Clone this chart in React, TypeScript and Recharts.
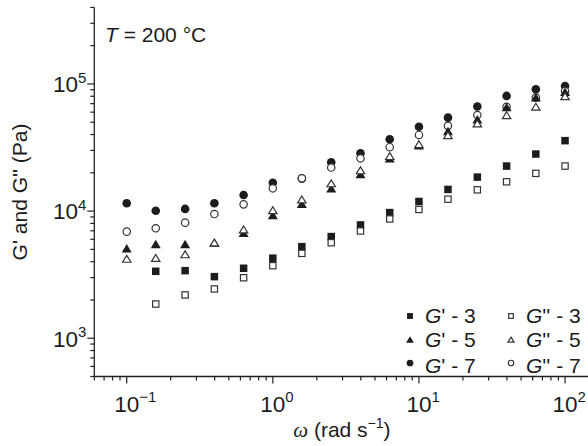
import React from 'react';
import { ScatterChart, Scatter, XAxis, YAxis, Label } from 'recharts';

const omega = [0.1, 0.158, 0.251, 0.398, 0.631, 1, 1.58, 2.51, 3.98, 6.31, 10, 15.8, 25.1, 39.8, 63.1, 100];

const gPrime3 = [null, 3360, 3400, 3050, 3550, 4260, 5250, 6300, 7780, 9730, 11900, 14800, 18500, 22600, 28100, 35800];
const gDouble3 = [null, 1858, 2190, 2440, 2990, 3720, 4650, 5640, 6970, 8670, 10300, 12400, 14700, 17000, 19800, 22600];
const gPrime5 = [5100, 5510, 5510, 5650, 6760, 9300, 11400, 15100, 19600, 26000, 33000, 42700, 52700, 66000, 78500, 87000];
const gDouble5 = [4230, 4300, 4590, 5680, 7200, 10200, 12400, 16600, 21000, 27200, 33700, 39700, 49100, 57000, 66400, 80500];
const gPrime7 = [11520, 10070, 10400, 11520, 13400, 16700, 18000, 24200, 28500, 36700, 46100, 54300, 66400, 80500, 90800, 96400];
const gDouble7 = [6890, 7330, 8110, 9480, 11300, 15100, 18100, 22000, 26000, 31800, 39700, 46800, 57000, 66000, 78000, 88000];

const xTicks = [0.06, 0.07, 0.08, 0.09, 0.1, 0.2, 0.3, 0.4, 0.5, 0.6, 0.7, 0.8, 0.9, 1, 2, 3, 4, 5, 6, 7, 8, 9, 10, 20, 30, 40, 50, 60, 70, 80, 90, 100];
const yTicks = [500, 600, 700, 800, 900, 1000, 2000, 3000, 4000, 5000, 6000, 7000, 8000, 9000, 10000, 20000, 30000, 40000, 50000, 60000, 70000, 80000, 90000, 100000, 200000, 300000, 400000];

const xDomain = [0.06, 147];
const yDomain = [500, 400000];

const legendPrimes = ["'", "'", "'", "''", "''", "''"];
const legendNums = ['3', '5', '7', '3', '5', '7'];

const FONT = "'Liberation Sans', Arial, Helvetica, sans-serif";
const INK = '#1c1c1c';
const AX = '#222';
const TICK_FS = 22.5;
const SUP_FS = 15;

type Kind = 'fsq' | 'osq' | 'ftri' | 'otri' | 'fcir' | 'ocir';

function marker(kind: Kind, cx: number, cy: number, scale: number, key?: string) {
  const s = 7.5 * scale;
  const w = 10 * scale;
  const h = 8.5 * scale;
  const r = 4.3 * scale;
  const sw = 1.2;
  switch (kind) {
    case 'fsq':
      return <rect key={key} x={cx - s / 2} y={cy - s / 2} width={s} height={s} fill={INK} />;
    case 'osq':
      return <rect key={key} x={cx - s / 2 + sw / 2} y={cy - s / 2 + sw / 2} width={s - sw} height={s - sw} fill="#fff" stroke="#333" strokeWidth={sw} />;
    case 'ftri':
      return <polygon key={key} points={`${cx},${cy - h / 2} ${cx + w / 2},${cy + h / 2} ${cx - w / 2},${cy + h / 2}`} fill={INK} />;
    case 'otri':
      return <polygon key={key} points={`${cx},${cy - h / 2 + 1} ${cx + w / 2 - 0.8},${cy + h / 2 - 0.6} ${cx - w / 2 + 0.8},${cy + h / 2 - 0.6}`} fill="#fff" stroke="#333" strokeWidth={sw} strokeLinejoin="miter" />;
    case 'fcir':
      return <circle key={key} cx={cx} cy={cy} r={r} fill={INK} />;
    case 'ocir':
    default:
      return <circle key={key} cx={cx} cy={cy} r={r - sw / 2} fill="#fff" stroke="#333" strokeWidth={sw} />;
  }
}

const build = (vals: (number | null)[]) =>
  omega.map((x, i) => ({ x, y: vals[i] })).filter((d) => d.y != null) as { x: number; y: number }[];

// draw order chosen to match overlaps in the reference
const series: { name: string; kind: Kind; data: { x: number; y: number }[] }[] = [
  { name: "G' - 7", kind: 'fcir', data: build(gPrime7) },
  { name: "G'' - 7", kind: 'ocir', data: build(gDouble7) },
  { name: "G' - 5", kind: 'ftri', data: build(gPrime5) },
  { name: "G'' - 5", kind: 'otri', data: build(gDouble5) },
  { name: "G' - 3", kind: 'fsq', data: build(gPrime3) },
  { name: "G'' - 3", kind: 'osq', data: build(gDouble3) },
];

const legendKinds: Kind[] = ['fsq', 'ftri', 'fcir', 'osq', 'otri', 'ocir'];

const isMajor = (v: number) => {
  const l = Math.log10(v);
  return Math.abs(l - Math.round(l)) < 1e-6;
};
const expText = (v: number) => {
  const e = Math.round(Math.log10(v));
  return e < 0 ? '\u2212' + Math.abs(e) : String(e);
};

const BottomTick = (props: any) => {
  const { x, y, payload } = props;
  const v = payload.value;
  const major = isMajor(v);
  return (
    <g>
      <line x1={x} x2={x} y1={y} y2={y + (major ? 7 : 4)} stroke={AX} strokeWidth={1.2} />
      {major && (
        <text x={x - TICK_FS * 0.556} y={y + 35} fontFamily={FONT} fontSize={TICK_FS} fill={INK}>
          <tspan>10</tspan>
          <tspan dy={-9.5} fontSize={SUP_FS}>{expText(v)}</tspan>
        </text>
      )}
    </g>
  );
};

const TopTick = (props: any) => {
  const { x, y, payload } = props;
  const major = isMajor(payload.value);
  return <line x1={x} x2={x} y1={y} y2={y + (major ? 7 : 4)} stroke={AX} strokeWidth={1.2} />;
};

const LeftTick = (props: any) => {
  const { x, y, payload } = props;
  const v = payload.value;
  const major = isMajor(v);
  return (
    <g>
      <line x1={x} x2={x - (major ? 7 : 4)} y1={y} y2={y} stroke={AX} strokeWidth={1.2} />
      {major && (
        <text x={x - 8} y={y + 8.3} textAnchor="end" fontFamily={FONT} fontSize={TICK_FS} fill={INK}>
          <tspan>10</tspan>
          <tspan dy={-9.5} fontSize={SUP_FS}>{expText(v)}</tspan>
        </text>
      )}
    </g>
  );
};

const RightTick = (props: any) => {
  const { x, y, payload } = props;
  const major = isMajor(payload.value);
  return <line x1={x} x2={x - (major ? 7 : 4)} y1={y} y2={y} stroke={AX} strokeWidth={1.2} />;
};

const XTitle = (props: any) => {
  const vb = props.viewBox;
  const cx = vb.x + vb.width / 2;
  return (
    <text x={cx} y={vb.y + 60.5} textAnchor="middle" fontFamily={FONT} fontSize={21} fill={INK}>
      <tspan fontFamily="'Liberation Serif', 'Times New Roman', serif" fontStyle="italic">ω</tspan>
      <tspan> (rad s</tspan>
      <tspan dy={-9} fontSize={14}>−1</tspan>
      <tspan dy={9}>)</tspan>
    </text>
  );
};

const YTitle = (props: any) => {
  const vb = props.viewBox;
  const cy = vb.y + vb.height / 2;
  const x = 27;
  return (
    <text x={x} y={cy} transform={`rotate(-90 ${x} ${cy})`} textAnchor="middle" fontFamily={FONT} fontSize={21} fill={INK}>
      G' and G'' (Pa)
    </text>
  );
};

export default function App() {
  const legendCols = [410, 511];
  const legendTextX = [425, 526];
  const rowBase = [323.3, 347, 372.5];
  const rowMark = [316, 339.5, 363];
  return (
    <div style={{ position: 'absolute', left: 0, top: 0, width: 588, height: 446, overflow: 'hidden', background: '#fff' }}>
      <ScatterChart width={590} height={446} margin={{ top: 7.4, right: 0.5, bottom: 0, left: 0 }}>
        <XAxis
          xAxisId="b"
          dataKey="x"
          type="number"
          scale="log"
          domain={xDomain}
          allowDataOverflow
          ticks={xTicks}
          interval={0}
          height={69.5}
          tickSize={0}
          tickMargin={0}
          tickLine={false}
          tick={<BottomTick />}
          axisLine={{ stroke: AX, strokeWidth: 1.3 }}
        >
          <Label content={<XTitle />} />
        </XAxis>
        <XAxis
          xAxisId="t"
          orientation="top"
          dataKey="x"
          type="number"
          scale="log"
          domain={xDomain}
          allowDataOverflow
          ticks={xTicks}
          interval={0}
          height={0}
          tickSize={0}
          tickMargin={0}
          tickLine={false}
          tick={<TopTick />}
          axisLine={{ stroke: AX, strokeWidth: 1.3 }}
        />
        <YAxis
          yAxisId="l"
          dataKey="y"
          type="number"
          scale="log"
          domain={yDomain}
          allowDataOverflow
          ticks={yTicks}
          interval={0}
          width={94.3}
          tickSize={0}
          tickMargin={0}
          tickLine={false}
          tick={<LeftTick />}
          axisLine={{ stroke: AX, strokeWidth: 1.3 }}
        >
          <Label content={<YTitle />} />
        </YAxis>
        <YAxis
          yAxisId="r"
          orientation="right"
          dataKey="y"
          type="number"
          scale="log"
          domain={yDomain}
          allowDataOverflow
          ticks={yTicks}
          interval={0}
          width={0}
          tickSize={0}
          tickMargin={0}
          tickLine={false}
          tick={<RightTick />}
          axisLine={{ stroke: AX, strokeWidth: 1.3 }}
        />
        {series.map((s) => (
          <Scatter
            key={s.name}
            name={s.name}
            data={s.data}
            xAxisId="b"
            yAxisId="l"
            isAnimationActive={false}
            shape={(p: any) => marker(s.kind, p.cx, p.cy, 1)}
          />
        ))}
      </ScatterChart>
      <svg width={588} height={446} style={{ position: 'absolute', left: 0, top: 0, pointerEvents: 'none' }}>
        <text x={105} y={41.7} fontFamily={FONT} fontSize={21} fill={INK}>
          <tspan fontStyle="italic">T</tspan>
          <tspan> = 200 °C</tspan>
        </text>
        {legendKinds.map((k, i) => {
          const col = Math.floor(i / 3);
          const row = i % 3;
          return (
            <g key={k}>
              {marker(k, legendCols[col], rowMark[row], 0.78)}
              <text x={legendTextX[col]} y={rowBase[row]} fontFamily={FONT} fontSize={21} fill={INK}>
                <tspan fontStyle="italic">G</tspan>
                <tspan>{legendPrimes[i]} - {legendNums[i]}</tspan>
              </text>
            </g>
          );
        })}
      </svg>
    </div>
  );
}
